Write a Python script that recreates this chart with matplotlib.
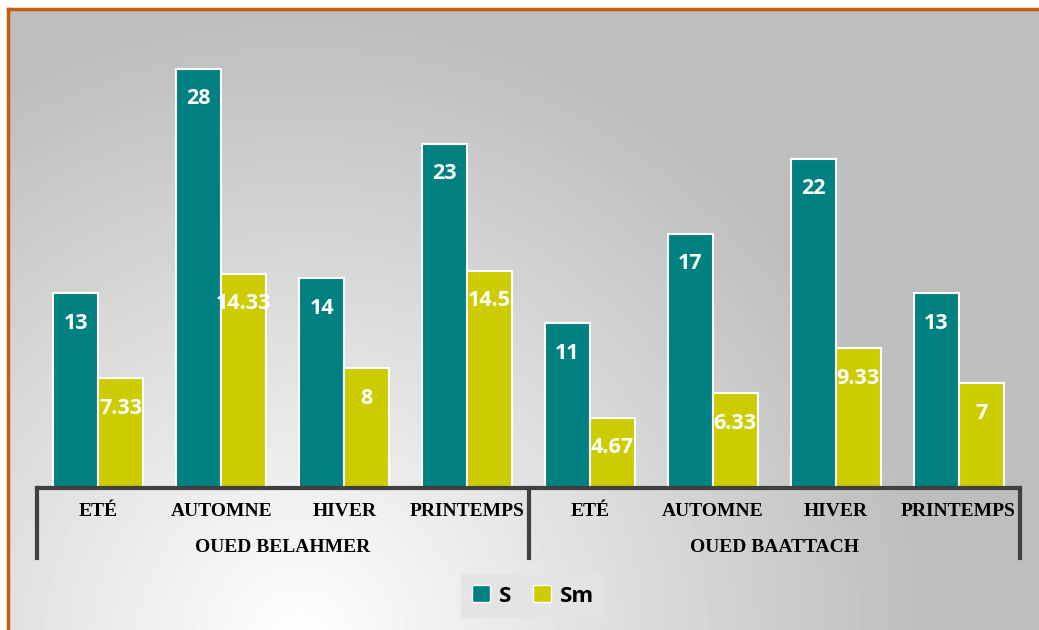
import numpy as np
import matplotlib.pyplot as plt
from matplotlib.patches import Patch
from matplotlib.lines import Line2D
import matplotlib.transforms as mtransforms

# data
seasons = ['ETÉ', 'AUTOMNE', 'HIVER', 'PRINTEMPS']
rivers = ['OUED BELAHMER', 'OUED BAATTACH']
s_values = [13, 28, 14, 23, 11, 17, 22, 13]
sm_values = [7.33, 14.33, 8, 14.5, 4.67, 6.33, 9.33, 7]
s_labels = ['13', '28', '14', '23', '11', '17', '22', '13']
sm_labels = ['7.33', '14.33', '8', '14.5', '4.67', '6.33', '9.33', '7']

teal = '#008080'
olive = '#cccc00'

W, H = 1039, 630
fig = plt.figure(figsize=(W / 100, H / 100), dpi=100)
fig.patch.set_facecolor('white')

# background gradient (light spot bottom-left, grey elsewhere)
yy, xx = np.mgrid[0:H, 0:W]
d = np.hypot(xx - 300, yy - 640)
f = np.clip(1 - d / 620, 0, 1)
val = (190 + 65 * f) / 255
bg = fig.add_axes([8 / W, 0, 1 - 8 / W, 1 - 9 / H])
bg.imshow(val[9:, 8:], cmap='gray', vmin=0, vmax=1, aspect='auto',
          interpolation='bilinear')
bg.axis('off')

# orange frame
fig.add_artist(Line2D([8 / W, 1], [1 - 9 / H, 1 - 9 / H], color='#c55a11', lw=2.5,
                      transform=fig.transFigure))
fig.add_artist(Line2D([8 / W, 8 / W], [0, 1 - 9 / H], color='#c55a11', lw=2.5,
                      transform=fig.transFigure))

# main axes
ax = fig.add_axes([37 / W, (H - 488) / H, (1020 - 37) / W, 449 / H])
ax.set_facecolor('none')
n = len(s_values)
x = np.arange(n)
bw = 0.366
b1 = ax.bar(x - bw / 2, s_values, bw, color=teal, edgecolor='white', linewidth=1.5)
b2 = ax.bar(x + bw / 2, sm_values, bw, color=olive, edgecolor='white', linewidth=1.5)
ax.set_xlim(-0.5, n - 0.5)
ax.set_ylim(0, 30)

for bars, labels in [(b1, s_labels), (b2, sm_labels)]:
    for rect, lab in zip(bars, labels):
        ax.annotate(lab, (rect.get_x() + rect.get_width() / 2, rect.get_height()),
                    xytext=(0, -21.5), textcoords='offset points', ha='center',
                    va='center', color='white', fontsize=15.5, fontweight='bold',
                    family='Open Sans')

for sp in ['top', 'right', 'left']:
    ax.spines[sp].set_visible(False)
ax.spines['bottom'].set_color('#404040')
ax.spines['bottom'].set_linewidth(3)
ax.set_xticks([])
ax.set_yticks([])

trans = mtransforms.blended_transform_factory(ax.transData, ax.transAxes)
for xs in [-0.5, 3.5, 7.5]:
    ax.add_line(Line2D([xs, xs], [0, -70 / 449], color='#404040', lw=3,
                       transform=trans, clip_on=False))

for i in range(n):
    ax.text(i, -24 / 449, seasons[i % 4], transform=trans, ha='center', va='center',
            family='Liberation Serif', fontweight='bold', fontsize=14)
for j, r in enumerate(rivers):
    ax.text(1.5 + 4 * j, -59 / 449, r, transform=trans, ha='center', va='center',
            family='Liberation Serif', fontweight='bold', fontsize=14)

handles = [Patch(facecolor=teal, edgecolor='white', linewidth=1),
           Patch(facecolor=olive, edgecolor='white', linewidth=1)]
leg = fig.legend(handles, ['S', 'Sm'], loc='center',
                 bbox_to_anchor=(533 / W, (H - 596) / H), ncol=2, frameon=True,
                 fancybox=False, handlelength=0.8, handleheight=0.8,
                 handletextpad=0.4, columnspacing=1.0, borderpad=0.5,
                 borderaxespad=0.3,
                 prop={'family': 'Open Sans', 'weight': 'bold', 'size': 16})
leg.get_frame().set_facecolor('#e4e4e4')
leg.get_frame().set_edgecolor('none')
leg.get_frame().set_alpha(0.9)

fig.savefig('out.png', dpi=100)
